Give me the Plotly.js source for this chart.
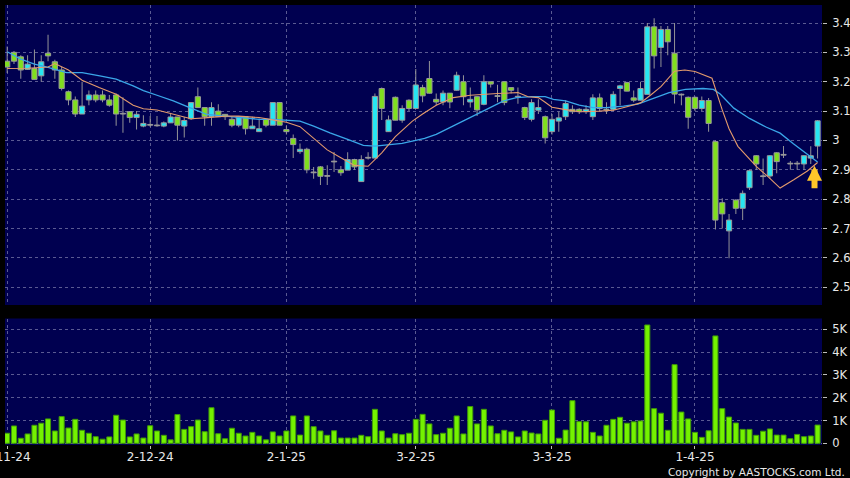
<!DOCTYPE html>
<html><head><meta charset="utf-8">
<script src="https://cdn.plot.ly/plotly-3.0.1.min.js"></script>
<style>html,body{margin:0;padding:0;background:#000;}#chart{width:850px;height:478px;}</style>
</head><body><div id="chart"></div>
<script>
// ---- data ----
const openP = [3.27,3.30,3.285,3.242,3.245,3.22,3.297,3.268,3.24,3.166,
3.138,3.09,3.138,3.155,3.155,3.138,3.155,3.09,3.098,3.078,
3.049,3.052,3.05,3.049,3.06,3.08,3.049,3.074,3.149,3.112,
3.081,3.10,3.089,3.072,3.052,3.081,3.04,3.03,3.072,3.052,
3.129,3.037,3.007,2.962,2.97,2.89,2.91,2.878,2.927,2.90,
2.899,2.935,2.86,2.94,2.94,3.177,3.03,3.147,3.069,3.137,
3.109,3.18,3.211,3.14,3.131,3.161,3.171,3.20,3.131,3.149,
3.123,3.20,3.152,3.20,3.18,3.148,3.112,3.072,3.103,3.081,
3.03,3.066,3.081,3.106,3.106,3.098,3.081,3.145,3.106,3.106,
3.177,3.197,3.145,3.137,3.157,3.387,3.317,3.378,3.297,3.155,
3.147,3.147,3.109,3.136,2.996,2.788,2.692,2.797,2.769,2.839,
2.948,2.877,2.879,2.958,2.95,2.92,2.92,2.92,2.94,2.981];
const highP = [3.32,3.305,3.29,3.29,3.31,3.29,3.36,3.275,3.25,3.17,
3.15,3.20,3.17,3.17,3.17,3.155,3.16,3.147,3.10,3.10,
3.086,3.083,3.083,3.065,3.092,3.08,3.08,3.129,3.18,3.112,
3.13,3.123,3.09,3.081,3.083,3.083,3.081,3.075,3.072,3.129,
3.129,3.05,3.02,2.99,2.975,2.91,2.913,2.916,2.961,2.913,
2.96,2.938,2.95,2.96,3.16,3.18,3.085,3.15,3.12,3.14,
3.243,3.19,3.271,3.16,3.17,3.161,3.234,3.222,3.18,3.15,
3.222,3.20,3.19,3.20,3.18,3.18,3.115,3.14,3.14,3.085,
3.09,3.098,3.137,3.12,3.11,3.12,3.157,3.16,3.13,3.168,
3.19,3.20,3.17,3.20,3.40,3.416,3.39,3.39,3.40,3.16,
3.15,3.15,3.15,3.145,3.00,2.803,2.75,2.80,2.83,2.90,
2.95,2.939,2.95,2.96,2.981,2.93,2.93,2.95,2.98,3.07];
const lowP = [3.23,3.26,3.21,3.24,3.208,3.20,3.27,3.21,3.17,3.12,
3.08,3.09,3.12,3.13,3.13,3.115,3.05,3.026,3.06,3.037,
3.045,3.047,3.047,3.045,3.06,3.00,3.01,3.07,3.112,3.05,
3.05,3.08,3.07,3.045,3.045,3.02,3.04,3.03,3.045,3.052,
3.052,3.02,2.94,2.955,2.888,2.87,2.848,2.848,2.893,2.88,
2.899,2.90,2.86,2.935,2.94,3.07,3.03,3.069,3.06,3.10,
3.109,3.13,3.16,3.12,3.12,3.11,3.17,3.12,3.112,3.083,
3.12,3.18,3.13,3.12,3.16,3.125,3.07,3.065,3.09,2.99,
3.02,3.03,3.07,3.09,3.09,3.09,3.07,3.10,3.09,3.10,
3.12,3.168,3.13,3.137,3.157,3.245,3.25,3.29,3.126,3.12,
3.04,3.10,3.10,3.03,2.697,2.70,2.599,2.75,2.729,2.831,
2.90,2.848,2.87,2.888,2.94,2.90,2.90,2.90,2.92,2.939];
const closeP = [3.25,3.27,3.24,3.26,3.208,3.268,3.288,3.24,3.177,3.138,
3.09,3.117,3.155,3.138,3.138,3.12,3.09,3.09,3.078,3.089,
3.058,3.052,3.05,3.06,3.08,3.052,3.068,3.129,3.112,3.081,
3.112,3.081,3.081,3.052,3.081,3.04,3.049,3.04,3.052,3.129,
3.052,3.03,2.986,2.97,2.90,2.89,2.878,2.878,2.927,2.89,
2.935,2.91,2.935,2.94,3.15,3.109,3.07,3.069,3.109,3.109,
3.189,3.152,3.161,3.131,3.161,3.131,3.222,3.149,3.14,3.104,
3.20,3.192,3.15,3.129,3.171,3.148,3.078,3.129,3.112,3.009,
3.072,3.077,3.126,3.098,3.098,3.106,3.145,3.109,3.104,3.157,
3.186,3.168,3.137,3.177,3.387,3.288,3.378,3.336,3.158,3.155,
3.079,3.109,3.136,3.058,2.729,2.75,2.729,2.769,2.82,2.897,
2.92,2.877,2.948,2.928,2.95,2.92,2.92,2.948,2.948,3.067];
// volume in thousands of shares
const volumeK = [0.44,0.76,0.22,0.41,0.79,0.88,1.07,0.54,1.17,0.67,
1.05,0.57,0.44,0.29,0.18,0.28,1.23,1.02,0.28,0.41,
0.23,0.77,0.54,0.35,0.15,1.26,0.61,0.73,1.02,0.51,
1.56,0.42,0.20,0.66,0.44,0.32,0.48,0.32,0.15,0.50,
0.32,0.54,1.20,0.36,1.20,0.73,0.54,0.35,0.55,0.23,
0.23,0.23,0.35,0.29,1.49,0.54,0.23,0.42,0.38,0.44,
1.05,1.27,0.85,0.38,0.44,0.66,1.20,0.41,1.61,0.85,
1.49,0.76,0.42,0.57,0.50,0.28,0.54,0.45,0.41,1.01,
1.46,0.22,0.58,1.87,0.95,0.94,0.48,0.32,0.79,1.05,
1.14,0.88,0.94,0.98,5.19,1.52,1.32,0.57,3.45,1.37,
1.07,0.48,0.26,0.55,4.71,1.52,1.15,0.89,0.61,0.61,
0.35,0.53,0.63,0.36,0.36,0.20,0.39,0.29,0.32,0.80];
// moving-average lines
const maShortX = [0,3,6,7,9,11,13.5,16,18.5,20,22,24.5,27,29,32,34,37,39,41,43,45,47,49,51,53,55,57,59.5,61,63,65.5,68,72,75,76.5,78,79,80,82,84,87,89,91,93,94.5,96,98,99.5,101,102.3,103.5,105,106,107.3,108.5,110,111.8,113.5,115.5,117.5,119];
const maShortY = [3.245,3.246,3.25,3.262,3.24,3.205,3.18,3.157,3.12,3.108,3.104,3.089,3.074,3.077,3.083,3.083,3.078,3.07,3.062,3.047,3.009,2.968,2.941,2.915,2.912,2.958,3.013,3.066,3.09,3.12,3.146,3.154,3.16,3.163,3.149,3.146,3.13,3.113,3.105,3.098,3.10,3.103,3.115,3.128,3.155,3.183,3.236,3.24,3.235,3.224,3.212,3.104,3.04,2.98,2.95,2.912,2.875,2.838,2.866,2.896,2.925];
const maLongX = [0,2,4,6,8.7,11,13.6,16,18.5,20,22,24.4,26.8,29.3,32,34,37,39,41,43,45,47.4,50,52.3,54,56,58,60,61.3,63,65.5,68,70.4,72.9,74.8,77,79,80.2,82,84,86,88,90.5,92.6,94.7,97.2,99.6,102.2,103.7,104.7,106.7,109,111.5,113.5,115.4,117.4,119];
const maLongY = [3.302,3.277,3.26,3.249,3.231,3.231,3.22,3.209,3.186,3.17,3.154,3.135,3.112,3.089,3.083,3.078,3.072,3.072,3.07,3.066,3.049,3.026,3.004,2.983,2.981,2.985,2.99,3.0,3.007,3.021,3.049,3.078,3.106,3.135,3.146,3.149,3.149,3.14,3.135,3.12,3.112,3.112,3.117,3.124,3.143,3.163,3.174,3.177,3.174,3.158,3.11,3.075,3.045,3.025,2.99,2.955,2.927];
const dateTickPos = [0,21,41,60,80,101];
const dateTickText = ['1-11-24','2-12-24','2-1-25','3-2-25','3-3-25','1-4-25'];
const priceTicks = [2.5,2.6,2.7,2.8,2.9,3.0,3.1,3.2,3.3,3.4];
const priceTickText = ['2.5','2.6','2.7','2.8','2.9','3','3.1','3.2','3.3','3.4'];
const volTicks = [0,1,2,3,4,5];
const volTickText = ['0','1K','2K','3K','4K','5K'];

// ---- chart ----
const idx = openP.map((_, i) => i);
const W = 850, H = 478;
const FONT = '"DejaVu Sans",sans-serif';
const gridC = '#5a5a92';
const UP = '#27e6f2', DOWN = '#80df1e', EDGE = '#9a9a9a';
const lastI = idx[idx.length - 1];

// body geometry built from the OHLC arrays
const bodyBase = idx.map(i => Math.min(openP[i], closeP[i]));
const bodyLen = idx.map(i => Math.max(Math.abs(closeP[i] - openP[i]), 0.0025));
const bodyCol = idx.map(i => closeP[i] > openP[i] ? UP : (closeP[i] < openP[i] ? DOWN : EDGE));
const wickLen = idx.map(i => highP[i] - lowP[i]);

const traces = [
  {type:'bar', x: idx, y: wickLen, base: lowP, xaxis:'x', yaxis:'y', width:0.14,
   marker:{color: EDGE, line:{width:0}}, hoverinfo:'skip', showlegend:false},
  {type:'bar', x: idx, y: bodyLen, base: bodyBase, xaxis:'x', yaxis:'y', width:0.76,
   marker:{color: bodyCol, line:{color: EDGE, width:1}}, hoverinfo:'skip', showlegend:false},
  {type:'scatter', mode:'lines', x: maLongX, y: maLongY, xaxis:'x', yaxis:'y',
   line:{color:'#3aa6e8', width:1.3}, hoverinfo:'skip', showlegend:false},
  {type:'scatter', mode:'lines', x: maShortX, y: maShortY, xaxis:'x', yaxis:'y',
   line:{color:'#e39a6c', width:1.1}, hoverinfo:'skip', showlegend:false},
  {type:'bar', x: idx, y: volumeK, xaxis:'x2', yaxis:'y2', width:0.74,
   marker:{color:'#74f200', line:{color:'#3f9a08', width:1}},
   hoverinfo:'skip', showlegend:false}
];

const xr = [-0.32, 119.65];
const layout = {
  width: W, height: H,
  paper_bgcolor:'#000000', plot_bgcolor:'#000050',
  margin:{l:0, r:0, t:0, b:0},
  font:{family: FONT, color:'#e8e8e8', size:12},
  showlegend:false, barmode:'overlay',
  xaxis:{domain:[5/W, 822/W], range: xr, anchor:'y',
    tickmode:'array', tickvals: dateTickPos, ticktext: dateTickText, showticklabels:false,
    ticks:'', showgrid:true, gridcolor: gridC, griddash:'3px,3px', gridwidth:1,
    zeroline:false, showline:false, fixedrange:true},
  yaxis:{domain:[1-305/H, 1-5/H], range:[2.4397, 3.4613], side:'right', anchor:'x',
    tickmode:'array', tickvals: priceTicks, ticktext: priceTickText,
    ticks:'outside', ticklen:4, tickcolor:'#bdbdbd', ticklabelstandoff:3,
    tickfont:{size:11.5, color:'#e8e8e8', family: FONT},
    showgrid:true, gridcolor: gridC, griddash:'3px,3px', gridwidth:1,
    zeroline:false, showline:false, fixedrange:true},
  xaxis2:{domain:[5/W, 822/W], range: xr, anchor:'y2',
    tickmode:'array', tickvals: dateTickPos, ticktext: dateTickText,
    ticks:'outside', ticklen:3, tickcolor:'#bdbdbd', ticklabelstandoff:-2,
    ticklabeloverflow:'allow',
    tickfont:{size:12, color:'#e8e8e8', family: FONT},
    showgrid:true, gridcolor: gridC, griddash:'3px,3px', gridwidth:1,
    zeroline:false, showline:false, fixedrange:true},
  yaxis2:{domain:[1-445/H, 1-318.5/H], range:[-0.075, 5.474], side:'right', anchor:'x2',
    tickmode:'array', tickvals: volTicks, ticktext: volTickText,
    ticks:'outside', ticklen:4, tickcolor:'#bdbdbd', ticklabelstandoff:3,
    tickfont:{size:11.5, color:'#e8e8e8', family: FONT},
    showgrid:true, gridcolor: gridC, griddash:'3px,3px', gridwidth:1,
    zeroline:false, showline:false, fixedrange:true},
  annotations:[
    {xref:'paper', yref:'paper', x: 847/W, y: 1-471.5/H, xanchor:'right', yanchor:'middle',
     text:'Copyright by AASTOCKS.com Ltd.', showarrow:false,
     font:{size:10.5, color:'#e8e8e8', family: FONT}},
    {xref:'x', yref:'y', x: lastI - 0.45, y: lowP[lastI] - 0.025, ax: 0, ay: 24,
     text:'', showarrow:true, arrowhead:2, arrowsize:0.5, arrowwidth:6,
     arrowcolor:'#ffc629', standoff:0}
  ]
};

Plotly.newPlot('chart', traces, layout, {staticPlot:true, displayModeBar:false});
</script>
</body></html>
